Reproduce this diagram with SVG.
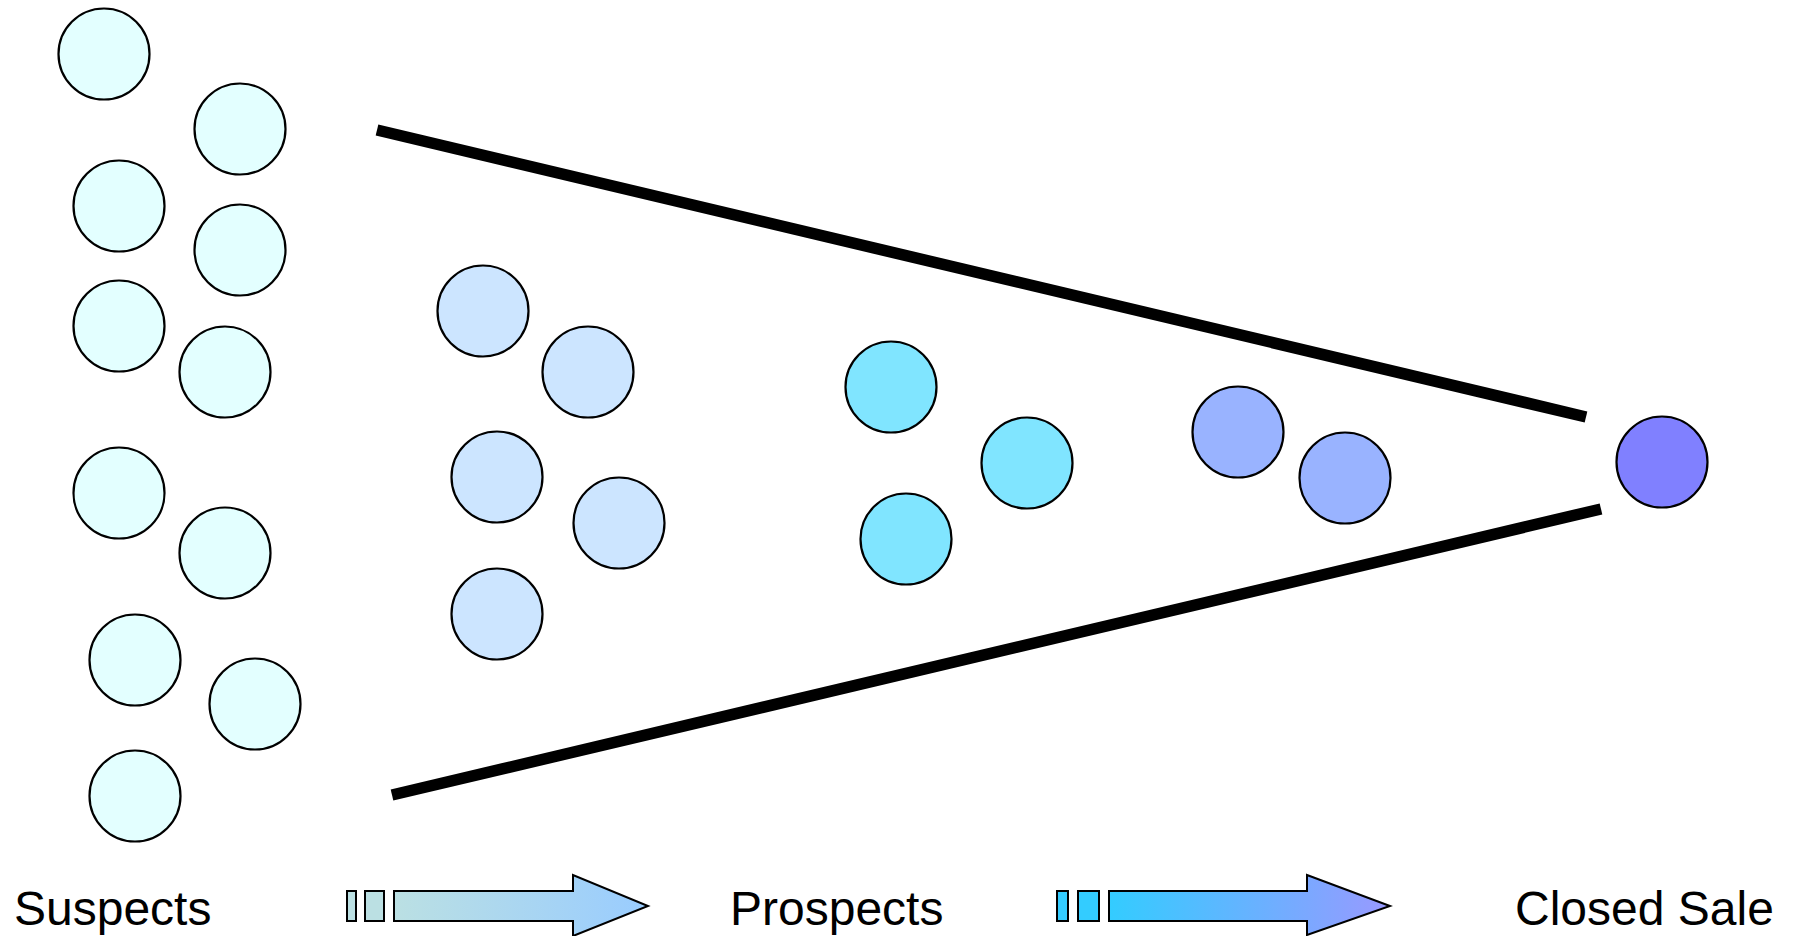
<svg xmlns="http://www.w3.org/2000/svg" width="1793" height="936" viewBox="0 0 1793 936">
<style>
circle{stroke:#000;stroke-width:2.2}
.s{fill:#E3FFFF}.p{fill:#CCE5FF}.c{fill:#80E5FF}.b{fill:#99B3FF}.z{fill:#8080FF}
.ln{stroke:#000;stroke-width:11.5;fill:none}
.ar{stroke:#000;stroke-width:2}
text{font-family:"Liberation Sans",Arial,sans-serif;font-size:48px;fill:#000}
</style>
<defs>
<linearGradient id="g1" x1="0" y1="0" x2="1" y2="0"><stop offset="0" stop-color="#BBE0E3"/><stop offset="1" stop-color="#99CCFF"/></linearGradient>
<linearGradient id="g2" x1="0" y1="0" x2="1" y2="0"><stop offset="0" stop-color="#33CCFF"/><stop offset="1" stop-color="#9999FF"/></linearGradient>
</defs>
<g id="suspects">
<circle class="s" cx="104" cy="54" r="45.5"/>
<circle class="s" cx="240" cy="129" r="45.5"/>
<circle class="s" cx="119" cy="206" r="45.5"/>
<circle class="s" cx="240" cy="250" r="45.5"/>
<circle class="s" cx="119" cy="326" r="45.5"/>
<circle class="s" cx="225" cy="372" r="45.5"/>
<circle class="s" cx="119" cy="493" r="45.5"/>
<circle class="s" cx="225" cy="553" r="45.5"/>
<circle class="s" cx="135" cy="660" r="45.5"/>
<circle class="s" cx="255" cy="704" r="45.5"/>
<circle class="s" cx="135" cy="796" r="45.5"/>
</g>
<g id="prospects">
<circle class="p" cx="483" cy="311" r="45.5"/>
<circle class="p" cx="588" cy="372" r="45.5"/>
<circle class="p" cx="497" cy="477" r="45.5"/>
<circle class="p" cx="619" cy="523" r="45.5"/>
<circle class="p" cx="497" cy="614" r="45.5"/>
</g>
<g id="qualified">
<circle class="c" cx="891" cy="387" r="45.5"/>
<circle class="c" cx="1027" cy="463" r="45.5"/>
<circle class="c" cx="906" cy="539" r="45.5"/>
</g>
<g id="finalists">
<circle class="b" cx="1238" cy="432" r="45.5"/>
<circle class="b" cx="1345" cy="478" r="45.5"/>
</g>
<g id="closed">
<circle class="z" cx="1662" cy="462" r="45.5"/>
</g>
<g id="connectors">
<line class="ln" x1="377" y1="130" x2="1586" y2="417"/>
<line class="ln" x1="392" y1="795" x2="1601" y2="509"/>
</g>
<g id="arrow1">
<rect class="ar" x="347" y="891" width="9" height="30" fill="#BBE0E3"/>
<rect class="ar" x="365" y="891" width="19" height="30" fill="#BBE0E3"/>
<path class="ar" fill="url(#g1)" d="M394,891 H573 V875 L648,906 L573,936 V921 H394 Z"/>
</g>
<g id="arrow2">
<rect class="ar" x="1057" y="891" width="11" height="30" fill="#33CCFF"/>
<rect class="ar" x="1078" y="891" width="21" height="30" fill="#33CCFF"/>
<path class="ar" fill="url(#g2)" d="M1109,891 H1307 V875 L1390,906 L1307,935 V921 H1109 Z"/>
</g>
<g id="labels">
<text x="14" y="925">Suspects</text>
<text x="730" y="925">Prospects</text>
<text x="1515" y="925">Closed Sale</text>
</g>
</svg>
